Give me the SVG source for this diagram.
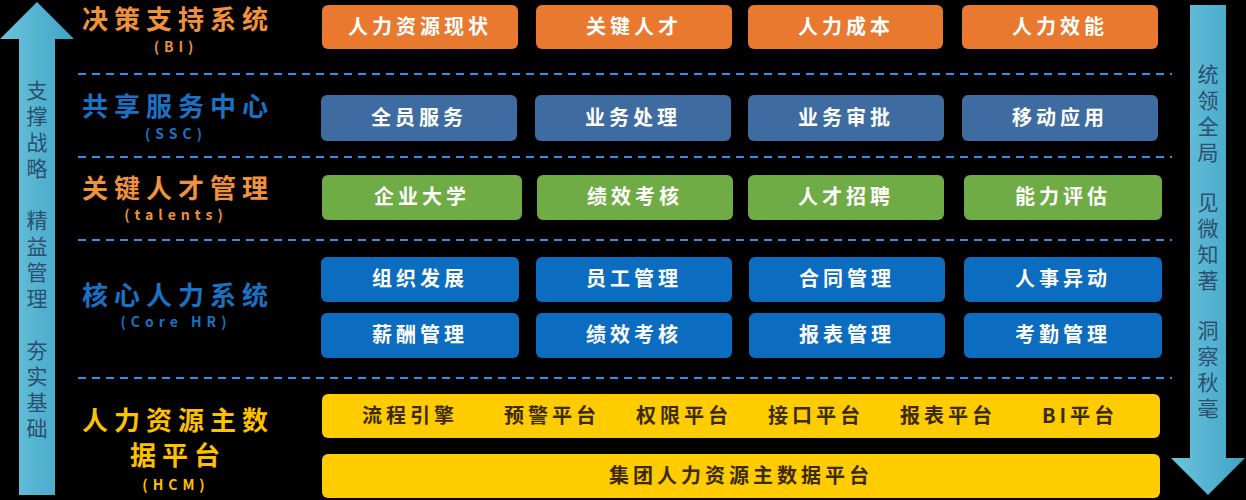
<svg xmlns="http://www.w3.org/2000/svg" width="1246" height="500" viewBox="0 0 1246 500">
<style>
.t{font-family:"Noto Sans CJK SC",sans-serif;font-weight:bold;font-size:26px;letter-spacing:6px;text-anchor:middle}
.s{font-family:"Noto Sans CJK SC",sans-serif;font-weight:bold;font-size:14px;letter-spacing:5px;text-anchor:middle}
.b{font-family:"Noto Sans CJK SC",sans-serif;font-weight:bold;font-size:20px;letter-spacing:4px;text-anchor:middle;fill:#fff}
.y{font-family:"Noto Sans CJK SC",sans-serif;font-weight:bold;font-size:20px;letter-spacing:4px;text-anchor:middle;fill:#3d2b00}
.v{font-family:"Noto Sans CJK SC",sans-serif;font-size:21px;fill:#2b4f70;text-anchor:middle}
.d{stroke:#2f8fef;stroke-width:2;stroke-dasharray:8 6}
.o{fill:#e8792f}.sb{fill:#3f6ca0}.g{fill:#6fac46}.bl{fill:#0c6cc0}.yl{fill:#ffcc00}
</style>
<rect width="1246" height="500" fill="#000"/>
<defs><linearGradient id="ag" x1="0" x2="1"><stop offset="0" stop-color="#6cc4dc"/><stop offset="1" stop-color="#3fa3c5"/></linearGradient></defs>
<g id="arrow-left"><polygon points="37,2 74,39 55,39 55,495 19,495 19,39 0,39" fill="url(#ag)"/>
<text class="v" x="37" y="98">支</text><text class="v" x="37" y="124">撑</text><text class="v" x="37" y="150">战</text><text class="v" x="37" y="176">略</text>
<text class="v" x="37" y="228">精</text><text class="v" x="37" y="254">益</text><text class="v" x="37" y="280">管</text><text class="v" x="37" y="306">理</text>
<text class="v" x="37" y="358">夯</text><text class="v" x="37" y="384">实</text><text class="v" x="37" y="410">基</text><text class="v" x="37" y="436">础</text></g>
<g id="arrow-right"><polygon points="1190,5 1226,5 1226,458 1245,458 1208,495 1171,458 1190,458" fill="url(#ag)"/>
<text class="v" x="1208" y="82">统</text><text class="v" x="1208" y="108">领</text><text class="v" x="1208" y="134">全</text><text class="v" x="1208" y="160">局</text>
<text class="v" x="1208" y="210">见</text><text class="v" x="1208" y="236">微</text><text class="v" x="1208" y="262">知</text><text class="v" x="1208" y="288">著</text>
<text class="v" x="1208" y="338">洞</text><text class="v" x="1208" y="364">察</text><text class="v" x="1208" y="390">秋</text><text class="v" x="1208" y="416">毫</text></g>
<g id="dividers"><line class="d" x1="78" y1="74" x2="1172" y2="74"/><line class="d" x1="78" y1="157" x2="1172" y2="157"/><line class="d" x1="78" y1="240" x2="1172" y2="240"/><line class="d" x1="78" y1="378" x2="1172" y2="378"/></g>
<g id="labels">
<text class="t" x="178" y="29" fill="#f0913c">决策支持系统</text><text class="s" x="176" y="52" fill="#f0913c">(BI)</text>
<text class="t" x="178" y="116" fill="#1a72c4">共享服务中心</text><text class="s" x="176" y="139" fill="#1a72c4">(SSC)</text>
<text class="t" x="178" y="198" fill="#f0913c">关键人才管理</text><text class="s" x="176" y="220" fill="#f0913c">(talents)</text>
<text class="t" x="178" y="305" fill="#1a72c4">核心人力系统</text><text class="s" x="176" y="327" fill="#1a72c4">(Core HR)</text>
<text class="t" x="178" y="430" fill="#ffc000">人力资源主数</text><text class="t" x="178" y="465" fill="#ffc000">据平台</text><text class="s" x="176" y="490" fill="#ffc000">(HCM)</text>
</g>
<g id="row-bi">
<rect class="o" x="322" y="5" width="196" height="44" rx="6"/><text class="b" x="420" y="34">人力资源现状</text>
<rect class="o" x="536" y="5" width="196" height="44" rx="6"/><text class="b" x="634" y="34">关键人才</text>
<rect class="o" x="748" y="5" width="195" height="44" rx="6"/><text class="b" x="846" y="34">人力成本</text>
<rect class="o" x="962" y="5" width="196" height="44" rx="6"/><text class="b" x="1060" y="34">人力效能</text>
</g>
<g id="row-ssc">
<rect class="sb" x="321" y="95" width="196" height="46" rx="6"/><text class="b" x="419" y="125">全员服务</text>
<rect class="sb" x="535" y="95" width="196" height="46" rx="6"/><text class="b" x="633" y="125">业务处理</text>
<rect class="sb" x="748" y="95" width="196" height="46" rx="6"/><text class="b" x="846" y="125">业务审批</text>
<rect class="sb" x="962" y="95" width="196" height="46" rx="6"/><text class="b" x="1060" y="125">移动应用</text>
</g>
<g id="row-talents">
<rect class="g" x="322" y="175" width="200" height="45" rx="6"/><text class="b" x="422" y="204">企业大学</text>
<rect class="g" x="537" y="175" width="196" height="45" rx="6"/><text class="b" x="635" y="204">绩效考核</text>
<rect class="g" x="748" y="175" width="196" height="45" rx="6"/><text class="b" x="846" y="204">人才招聘</text>
<rect class="g" x="964" y="175" width="198" height="45" rx="6"/><text class="b" x="1063" y="204">能力评估</text>
</g>
<g id="row-corehr">
<rect class="bl" x="321" y="257" width="198" height="45" rx="6"/><text class="b" x="420" y="286">组织发展</text>
<rect class="bl" x="536" y="257" width="196" height="45" rx="6"/><text class="b" x="634" y="286">员工管理</text>
<rect class="bl" x="749" y="257" width="196" height="45" rx="6"/><text class="b" x="847" y="286">合同管理</text>
<rect class="bl" x="964" y="257" width="198" height="45" rx="6"/><text class="b" x="1063" y="286">人事异动</text>
<rect class="bl" x="321" y="313" width="198" height="45" rx="6"/><text class="b" x="420" y="342">薪酬管理</text>
<rect class="bl" x="536" y="313" width="196" height="45" rx="6"/><text class="b" x="634" y="342">绩效考核</text>
<rect class="bl" x="749" y="313" width="196" height="45" rx="6"/><text class="b" x="847" y="342">报表管理</text>
<rect class="bl" x="964" y="313" width="198" height="45" rx="6"/><text class="b" x="1063" y="342">考勤管理</text>
</g>
<g id="row-hcm">
<rect class="yl" x="322" y="394" width="838" height="44" rx="6"/>
<text class="y" x="410" y="423">流程引擎</text><text class="y" x="552" y="423">预警平台</text><text class="y" x="684" y="423">权限平台</text><text class="y" x="816" y="423">接口平台</text><text class="y" x="948" y="423">报表平台</text><text class="y" x="1080" y="423">BI平台</text>
<rect class="yl" x="322" y="454" width="838" height="44" rx="6"/><text class="y" x="741" y="483">集团人力资源主数据平台</text>
</g>
</svg>
